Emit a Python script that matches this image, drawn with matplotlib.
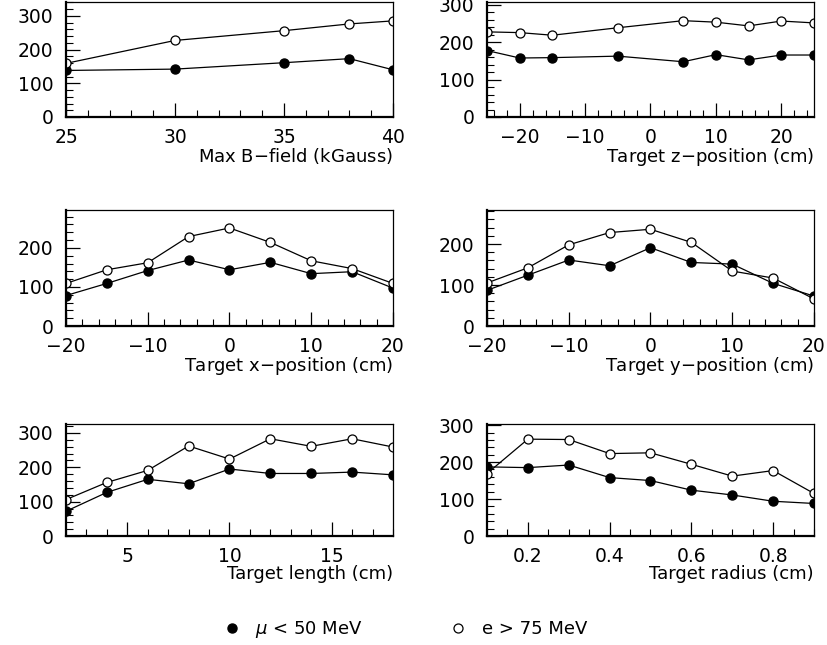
import numpy as np
import matplotlib
matplotlib.use('Agg')
import matplotlib.pyplot as plt
from matplotlib.ticker import MultipleLocator

plt.rcParams['font.family'] = ['DejaVu Sans']
plt.rcParams['font.size'] = 13

# muon (< 50 MeV) and electron (> 75 MeV) counts for each scan
bfield = [25, 30, 35, 38, 40]
bfield_mu = [138, 142, 161, 173, 140]
bfield_e = [159, 227, 256, 276, 285]

zpos = [-25, -20, -15, -5, 5, 10, 15, 20, 25]
zpos_mu = [178, 158, 159, 163, 148, 167, 153, 166, 166]
zpos_e = [228, 226, 219, 239, 258, 254, 244, 257, 252]

xpos = [-20, -15, -10, -5, 0, 5, 10, 15, 20]
xpos_mu = [78, 109, 142, 169, 144, 163, 134, 139, 97]
xpos_e = [109, 144, 162, 229, 251, 214, 167, 147, 109]

ypos = [-20, -15, -10, -5, 0, 5, 10, 15, 20]
ypos_mu = [87, 124, 161, 147, 191, 155, 151, 104, 73]
ypos_e = [105, 142, 198, 228, 236, 204, 134, 117, 66]

length = [2, 4, 6, 8, 10, 12, 14, 16, 18]
length_mu = [72, 127, 165, 152, 195, 182, 182, 186, 178]
length_e = [106, 156, 191, 262, 224, 283, 261, 283, 259]

radius = [0.1, 0.2, 0.3, 0.4, 0.5, 0.6, 0.7, 0.8, 0.9]
radius_mu = [187, 185, 192, 158, 150, 124, 111, 94, 88]
radius_e = [169, 262, 261, 223, 225, 194, 162, 177, 115]

panels = [
    (bfield, bfield_mu, bfield_e, 'Max B$-$field (kGauss)', (25, 40), 5, 1, 341),
    (zpos, zpos_mu, zpos_e, 'Target z$-$position (cm)', (-25, 25), 10, 2, 308),
    (xpos, xpos_mu, xpos_e, 'Target x$-$position (cm)', (-20, 20), 10, 2, 297),
    (ypos, ypos_mu, ypos_e, 'Target y$-$position (cm)', (-20, 20), 10, 2, 283),
    (length, length_mu, length_e, 'Target length (cm)', (2, 18), 5, 1, 326),
    (radius, radius_mu, radius_e, 'Target radius (cm)', (0.1, 0.9), 0.2, 0.05, 303),
]

W, H = 828, 645
fig = plt.figure(figsize=(W / 100, H / 100), dpi=100)

# pixel boxes (left, top, right, bottom) for the 3x2 grid
cols = [(66, 393), (487, 814)]
rows = [(2, 117), (210, 326), (424, 536)]

handles = None
for i, (x, mu, e, label, xlim, major, minor, ymax) in enumerate(panels):
    l, r = cols[i % 2]
    t, b = rows[i // 2]
    ax = fig.add_axes([l / W, 1 - b / H, (r - l) / W, (b - t) / H])
    h1, = ax.plot(x, mu, '-o', color='black', lw=0.9, ms=6.5)
    h2, = ax.plot(x, e, '-o', color='black', lw=0.9, ms=6.5,
                  mfc='white', mew=0.9)
    handles = [h1, h2]
    ax.set_xlim(*xlim)
    ax.set_ylim(0, ymax)
    ax.xaxis.set_major_locator(MultipleLocator(major))
    ax.xaxis.set_minor_locator(MultipleLocator(minor))
    ax.yaxis.set_major_locator(MultipleLocator(100))
    ax.yaxis.set_minor_locator(MultipleLocator(20))
    if i == 5:
        ax.xaxis.set_major_formatter(lambda v, p: f'{v:.1f}')
    else:
        ax.xaxis.set_major_formatter(lambda v, p: f'{v:g}'.replace('-', '\u2212'))
    ax.tick_params(which='major', direction='in', length=10, width=0.9,
                   top=False, right=False, pad=9, labelsize=13.5)
    ax.tick_params(which='minor', direction='in', length=5, width=0.8,
                   top=False, right=False)
    ax.tick_params(axis='x', which='major', pad=8)
    for s in ['left', 'bottom']:
        ax.spines[s].set_linewidth(1.6)
    for s in ['top', 'right']:
        ax.spines[s].set_linewidth(0.9)
    ax.set_xlabel(label, loc='right', labelpad=-1, fontsize=13)

fig.legend(handles, [r'$\mu$ < 50 MeV', 'e > 75 MeV'], loc='center',
           bbox_to_anchor=(0.488, 1 - 630 / H), ncol=2, frameon=False,
           handlelength=1.2, handletextpad=0.68, columnspacing=4.7,
           fontsize=13)
for lh in fig.legends[0].legend_handles:
    lh.set_linestyle('none')

fig.savefig('out.png', dpi=100)
